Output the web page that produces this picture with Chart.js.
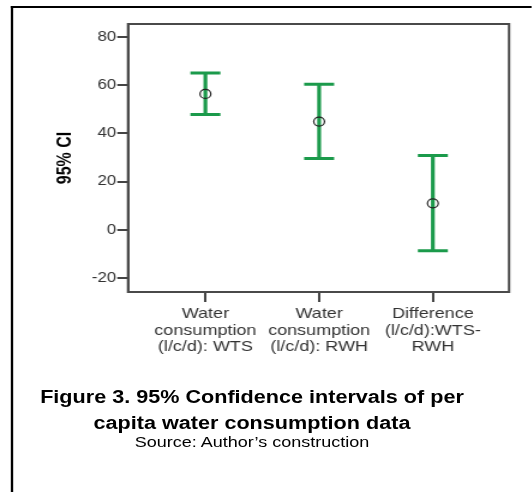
<!DOCTYPE html>
<html>
<head>
<meta charset="utf-8">
<script src="https://cdn.jsdelivr.net/npm/chart.js@4"></script>
<style>
  body { margin: 0; background: #fff; overflow: hidden; }
  /* the original figure is stretched ~1.2x horizontally, so draw at 1/1.2 width and scale */
  #wrap { position: relative; width: 443px; height: 492px; overflow: hidden;
          transform: scaleX(1.2); transform-origin: 0 0; background: #fff; }
  #frame { position: absolute; left: 9px; top: 6px; width: 460px; height: 500px;
           border-top: 2px solid #000; border-left: 2px solid #000; }
  #chart { position: absolute; left: 0; top: 0; }
  .cap { position: absolute; left: 0; width: 420px; text-align: center; color: #000;
         font-family: "Liberation Sans", Arial, sans-serif; white-space: nowrap; }
  .cap.b { font-weight: bold; font-size: 18px; line-height: 26px; }
  .cap.s { font-size: 15px; line-height: 18px; }
</style>
</head>
<body>
<div id="wrap">
  <div id="frame"></div>
  <canvas id="chart" width="443" height="492"></canvas>
  <div class="cap b" style="top:384px">Figure 3. 95% Confidence intervals of per</div>
  <div class="cap b" style="top:410px">capita water consumption data</div>
  <div class="cap s" style="top:433px">Source: Author’s construction</div>
</div>
<script>
var categories = [
  ['Water', 'consumption', '(l/c/d): WTS'],
  ['Water', 'consumption', '(l/c/d): RWH'],
  ['Difference', '(l/c/d):WTS-', 'RWH']
];
var catPos = [1, 2, 3];
var means = [56.4, 44.9, 11.0];
var lowerCI = [47.9, 29.6, -8.7];
var upperCI = [65.1, 60.4, 30.8];
var yTicks = [-20, 0, 20, 40, 60, 80];

var green = '#1b9a4b';
var font = 'Liberation Sans, Arial';

// whiskers are broken by a null point between categories
var whiskers = [];
var caps = [];
var centers = [];
for (var i = 0; i < catPos.length; i++) {
  whiskers.push({ x: catPos[i], y: lowerCI[i] });
  whiskers.push({ x: catPos[i], y: upperCI[i] });
  whiskers.push({ x: catPos[i] + 0.5, y: null });
  caps.push({ x: catPos[i], y: lowerCI[i] });
  caps.push({ x: catPos[i], y: upperCI[i] });
  centers.push({ x: catPos[i], y: means[i] });
}

var plotBox = {
  id: 'plotBox',
  afterDatasetsDraw: function(chart) {
    var a = chart.chartArea;
    var ctx = chart.ctx;
    ctx.save();
    ctx.strokeStyle = '#4a4a4a';
    ctx.lineWidth = 2;
    ctx.strokeRect(a.left, a.top, a.right - a.left, a.bottom - a.top);
    ctx.restore();
  }
};

new Chart(document.getElementById('chart').getContext('2d'), {
  type: 'scatter',
  data: {
    datasets: [
      { data: centers, pointStyle: 'circle', pointRadius: 4.5, pointBorderWidth: 1.2,
        pointBorderColor: '#222', pointBackgroundColor: 'rgba(0,0,0,0)', showLine: false, order: 0 },
      { data: caps, pointStyle: 'line', pointRadius: 12.5, pointBorderWidth: 3,
        pointBorderColor: green, showLine: false, order: 1 },
      { type: 'line', data: whiskers, borderColor: green, borderWidth: 3.2, pointRadius: 0,
        spanGaps: false, fill: false, order: 2 }
    ]
  },
  options: {
    responsive: false,
    animation: false,
    layout: { padding: { left: 44.6, top: 24, right: 18.8, bottom: 0 } },
    plugins: { legend: { display: false }, tooltip: { enabled: false } },
    scales: {
      x: {
        type: 'linear',
        min: 0.32,
        max: 3.67,
        afterBuildTicks: function(scale) { scale.ticks = catPos.map(function(v) { return { value: v }; }); },
        afterFit: function(scale) { scale.height = 200; },
        grid: { drawOnChartArea: false, drawTicks: true, tickLength: 10, color: '#444', lineWidth: 2 },
        border: { display: true, color: '#4a4a4a', width: 2 },
        ticks: {
          color: '#333',
          padding: 4,
          maxRotation: 0,
          autoSkip: false,
          font: { family: font, size: 15, lineHeight: 1.1 },
          callback: function(v, idx) { return categories[idx]; }
        }
      },
      y: {
        min: -25.8,
        max: 85.4,
        afterBuildTicks: function(scale) { scale.ticks = yTicks.map(function(v) { return { value: v }; }); },
        afterFit: function(scale) { scale.width = 106.7 - 44.6; },
        grid: { drawOnChartArea: false, drawTicks: true, tickLength: 9, color: '#444', lineWidth: 2 },
        border: { display: true, color: '#4a4a4a', width: 2 },
        title: {
          display: true,
          text: '95% CI',
          color: '#000',
          padding: { top: 0, bottom: 0 },
          font: { family: font, size: 16, weight: 'bold', lineHeight: 1.2 }
        },
        ticks: {
          color: '#333',
          padding: 1,
          font: { family: font, size: 14 }
        }
      }
    }
  },
  plugins: [plotBox]
});
</script>
</body>
</html>
